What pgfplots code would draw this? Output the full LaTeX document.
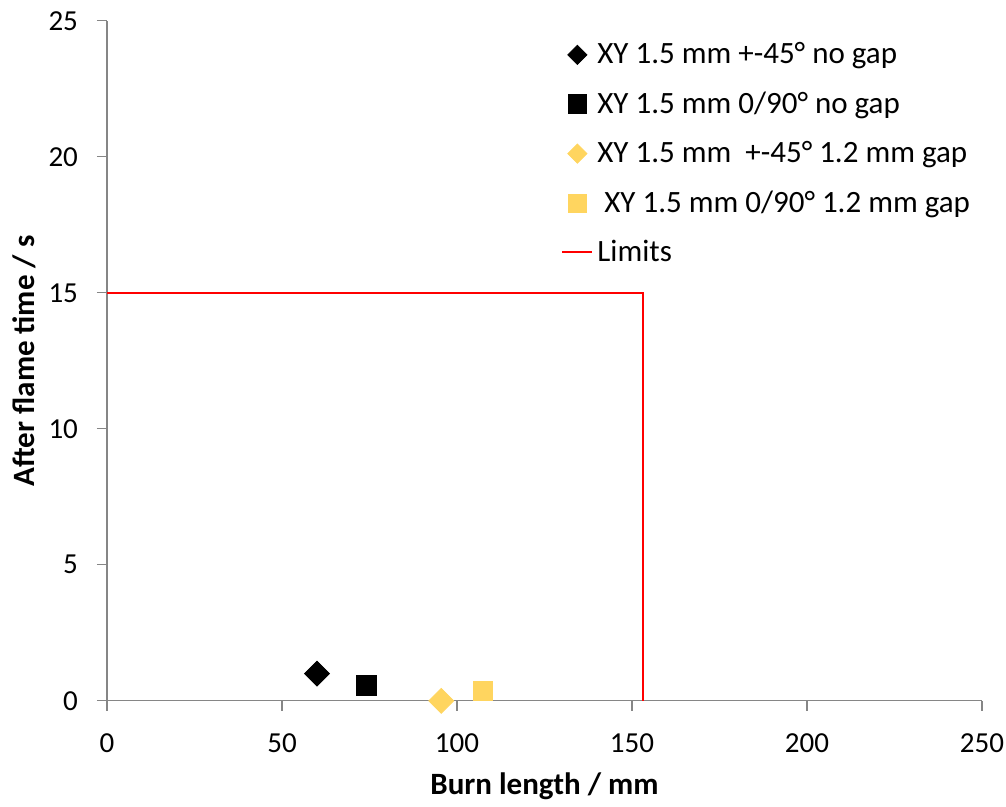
\documentclass[border=0pt]{standalone}
\usepackage{fontspec}
\setmainfont{Carlito}
\usepackage{pgfplots}
\pgfplotsset{compat=1.18}
\definecolor{gold}{RGB}{255,213,95}
\definecolor{axgray}{RGB}{134,134,134}
\definecolor{limred}{RGB}{255,0,0}

\pgfplotsset{
  markleg/.style={legend image code/.code={\draw[##1] plot coordinates {(9pt,0pt)};}},
  lineleg/.style={legend image code/.code={\draw[##1] (1.5pt,0pt) -- (16.5pt,0pt);}},
}

\begin{document}
\begin{tikzpicture}
\begin{axis}[
  scale only axis,
  width=437.5pt, height=340pt,
  xmin=0, xmax=250, ymin=0, ymax=25,
  axis lines=left,
  axis line style={-, axgray, line width=0.6pt},
  xtick={0,50,...,250}, ytick={0,5,...,25},
  tick align=outside,
  major tick length=5pt,
  tick style={axgray, line width=0.6pt},
  /pgf/number format/assume math mode=true,
  ticklabel style={font=\fontsize{14.5}{16}\selectfont},
  xticklabel style={yshift=-8pt, inner xsep=0pt},
  yticklabel style={xshift=-6pt},
  xlabel={\textbf{Burn length / mm}},
  ylabel={\textbf{After flame time / s}},
  label style={font=\fontsize{15.5}{17}\selectfont},
  xlabel style={yshift=-3pt},
  ylabel style={yshift=-0.5pt},
  clip=false,
  legend cell align=left,
  legend style={at={(0.512,0.98)}, anchor=north west, draw=none, fill=none,
    font=\fontsize{15.5}{17}\selectfont, row sep=8.5pt,
    /tikz/every even column/.append style={column sep=0pt}},
]
\addplot[only marks, mark=square*, mark size=4.4pt, black, mark options={rotate=45}, markleg,
  legend image post style={mark size=3.4pt}]
  coordinates {(60,1.0)};
\addlegendentry{XY 1.5 mm +-45° no gap}
\addplot[only marks, mark=square*, mark size=5pt, black, markleg,
  legend image post style={mark size=4.7pt}]
  coordinates {(74,0.55)};
\addlegendentry{XY 1.5 mm 0/90° no gap}
\addplot[only marks, mark=square*, mark size=4.4pt, gold, mark options={rotate=45}, markleg,
  legend image post style={mark size=3.4pt}]
  coordinates {(95.5,0)};
\addlegendentry{XY 1.5 mm \ +-45° 1.2 mm gap}
\addplot[only marks, mark=square*, mark size=4.8pt, gold, markleg,
  legend image post style={mark size=4.5pt}]
  coordinates {(107.3,0.35)};
\addlegendentry{\ XY 1.5 mm 0/90° 1.2 mm gap}
\addplot[limred, line width=1pt, lineleg]
  coordinates {(0,15) (153,15) (153,0)};
\addlegendentry{Limits}
\end{axis}
\path ([shift={(-53.5pt,-49.5pt)}]current axis.south west) rectangle ([shift={(12pt,10.4pt)}]current axis.north east);
\end{tikzpicture}
\end{document}
